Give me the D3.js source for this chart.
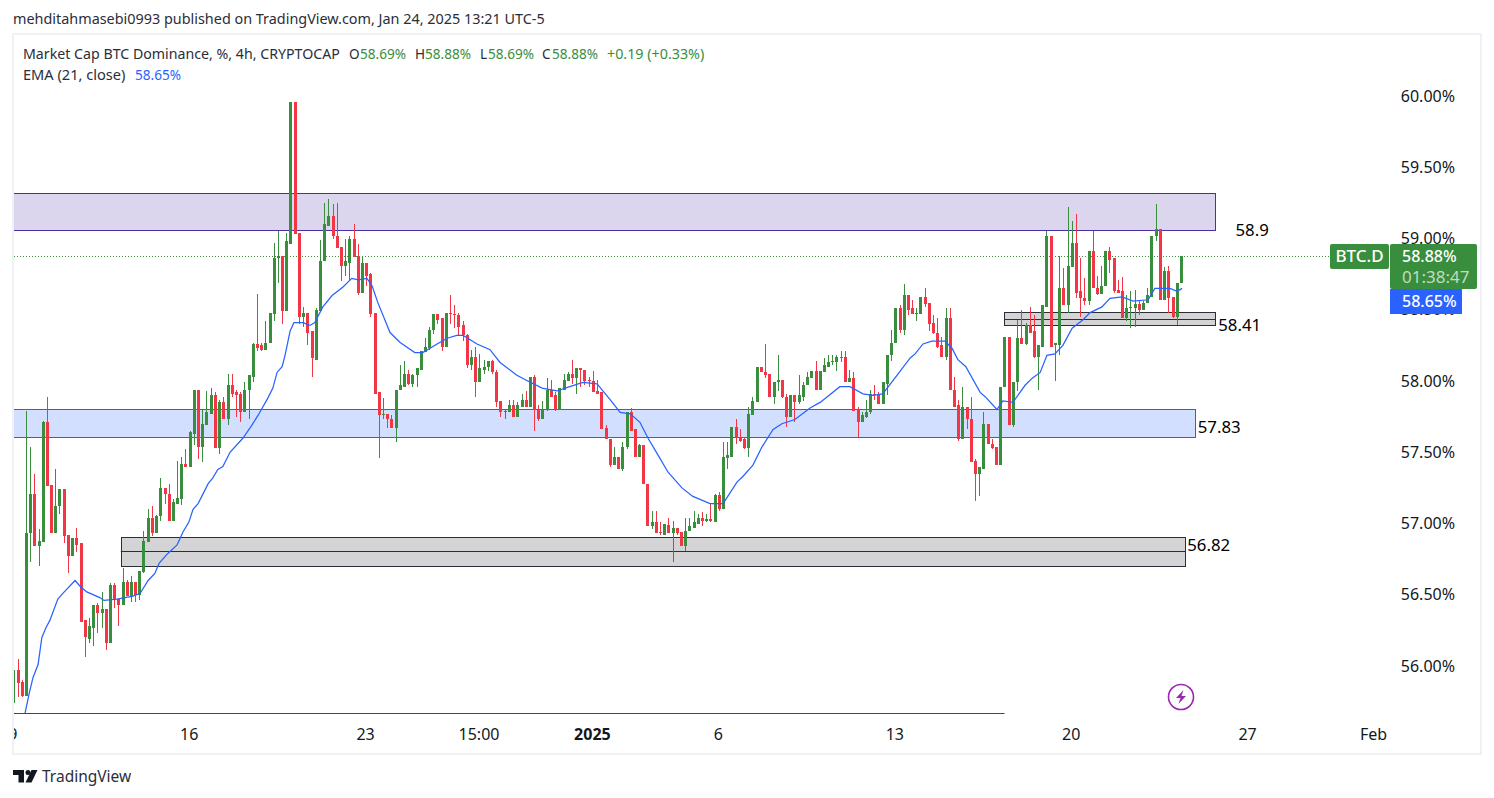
<!DOCTYPE html>
<html><head><meta charset="utf-8">
<script src="https://cdn.jsdelivr.net/npm/d3@7/dist/d3.min.js"></script>
<style>html,body{margin:0;padding:0;background:#fff}svg{display:block}text{font-family:"Noto Sans",sans-serif}</style>
</head><body><svg id="c" width="1494" height="798"></svg>
<script>
const opens=[55.74,55.97,55.89,55.79,56.93,57.21,56.84,56.87,57.71,57.27,
56.93,57.12,57.24,56.92,56.77,56.90,56.86,56.32,56.19,56.27,
56.43,56.37,56.40,56.16,56.57,56.47,56.43,56.59,56.49,56.59,
56.50,56.66,56.87,57.04,56.93,57.05,57.25,57.21,57.02,57.14,
57.17,57.42,57.40,57.63,57.94,57.54,57.69,57.77,57.90,57.53,
57.85,57.73,57.97,57.92,57.91,57.78,57.94,58.03,58.26,58.25,
58.22,58.27,58.47,58.86,58.88,58.49,58.96,59.96,59.04,58.45,
58.48,58.35,58.15,58.49,58.84,59.09,59.16,59.02,58.94,58.81,
58.83,59.00,58.88,58.62,58.83,58.75,58.48,57.92,57.76,57.77,
57.73,57.67,57.94,57.96,58.05,57.98,58.04,58.08,58.20,58.23,
58.36,58.47,58.44,58.24,58.48,58.47,58.46,58.39,58.32,58.11,
58.17,57.99,58.08,58.10,58.14,58.06,57.86,57.78,57.78,57.83,
57.75,57.82,57.87,57.82,58.03,57.80,57.73,57.80,57.94,57.90,
57.80,57.94,58.00,58.05,58.02,58.09,58.08,58.01,58.00,57.93,
57.92,57.67,57.59,57.41,57.47,57.38,57.54,57.78,57.66,57.47,
57.55,57.28,56.98,57.01,56.94,56.92,56.99,56.93,56.97,56.94,
56.84,56.95,56.97,57.00,57.04,57.02,57.03,57.01,57.20,57.10,
57.46,57.47,57.68,57.61,57.59,57.53,57.76,57.85,58.10,58.06,
58.05,57.89,57.99,58.01,57.89,57.75,57.90,57.85,57.89,57.97,
58.02,58.07,57.94,58.06,58.10,58.13,58.13,58.17,58.17,57.99,
58.02,57.80,57.71,57.75,57.78,57.91,57.90,57.84,57.98,58.18,
58.27,58.51,58.36,58.60,58.51,58.47,58.47,58.59,58.55,58.41,
58.34,58.25,58.17,58.44,57.94,57.83,57.59,57.82,57.73,57.44,
57.35,57.38,57.70,57.56,57.54,57.41,57.96,58.31,57.69,57.99,
58.30,58.26,58.39,58.35,58.17,58.24,58.52,59.02,58.25,58.25,
58.65,58.53,58.80,58.97,58.63,58.58,58.56,58.91,58.65,58.61,
58.67,58.91,58.86,58.64,58.63,58.44,58.51,58.51,58.54,58.50,
58.55,58.59,59.02,59.07,58.57,58.77,58.59,58.45,58.69];
const closes=[55.97,55.88,55.79,56.93,57.21,56.84,56.88,57.71,57.26,56.93,
57.12,57.24,56.91,56.77,56.90,56.85,56.31,56.20,56.28,56.43,
56.37,56.40,56.16,56.57,56.46,56.43,56.59,56.49,56.59,56.50,
56.67,56.88,57.04,56.93,57.05,57.25,57.21,57.02,57.15,57.18,
57.42,57.40,57.64,57.94,57.54,57.70,57.78,57.90,57.53,57.85,
57.73,57.97,57.91,57.90,57.78,57.94,58.04,58.26,58.23,58.22,
58.27,58.48,58.86,58.88,58.49,58.98,59.96,59.03,58.45,58.48,
58.34,58.16,58.50,58.84,59.10,59.16,59.02,58.93,58.81,58.84,
59.00,58.87,58.62,58.83,58.74,58.47,57.91,57.76,57.77,57.73,
57.67,57.94,57.97,58.05,57.98,58.04,58.09,58.21,58.24,58.36,
58.47,58.43,58.24,58.48,58.47,58.46,58.38,58.32,58.11,58.17,
57.99,58.09,58.10,58.14,58.06,57.85,57.78,57.79,57.83,57.75,
57.83,57.87,57.82,58.03,57.80,57.73,57.80,57.94,57.89,57.80,
57.95,58.01,58.05,58.02,58.09,58.08,58.00,58.00,57.92,57.91,
57.66,57.59,57.41,57.47,57.38,57.54,57.78,57.65,57.47,57.55,
57.28,56.98,57.01,56.93,56.93,57.00,56.93,56.97,56.93,56.84,
56.95,56.98,57.01,57.04,57.02,57.03,57.02,57.20,57.10,57.47,
57.48,57.68,57.60,57.58,57.53,57.77,57.86,58.10,58.06,58.04,
57.89,57.99,58.01,57.89,57.75,57.90,57.85,57.90,57.97,58.03,
58.07,57.94,58.07,58.11,58.13,58.14,58.17,58.16,57.99,58.02,
57.79,57.71,57.76,57.78,57.91,57.90,57.84,57.99,58.18,58.27,
58.51,58.36,58.60,58.50,58.47,58.48,58.59,58.54,58.40,58.34,
58.24,58.17,58.44,57.94,57.82,57.59,57.82,57.73,57.43,57.35,
57.40,57.70,57.56,57.53,57.41,57.96,58.31,57.69,57.99,58.30,
58.26,58.39,58.34,58.17,58.25,58.53,59.02,58.24,58.27,58.65,
58.53,58.81,58.97,58.62,58.58,58.56,58.91,58.65,58.61,58.67,
58.91,58.85,58.63,58.62,58.44,58.51,58.52,58.54,58.50,58.55,
58.60,59.02,59.07,58.57,58.77,58.58,58.45,58.69,58.88];
const highs=[55.97,56.05,55.90,57.79,57.54,57.35,56.96,57.72,57.89,57.27,
57.38,57.24,57.24,56.92,56.90,56.97,56.86,56.32,56.34,56.43,
56.44,56.52,56.40,56.58,56.58,56.47,56.69,56.60,56.63,56.59,
56.67,56.95,57.10,57.12,57.06,57.32,57.25,57.28,57.17,57.44,
57.47,57.52,57.65,57.94,57.94,57.80,57.93,57.95,57.92,57.87,
57.89,58.05,58.05,57.94,57.92,57.99,58.04,58.27,58.61,58.27,
58.42,58.48,58.97,59.05,58.88,59.04,59.96,59.96,59.04,58.52,
58.48,58.35,58.51,58.99,59.25,59.28,59.24,59.25,58.94,59.00,
59.02,59.10,58.96,58.88,58.83,58.76,58.48,57.92,57.88,57.77,
57.76,57.94,58.11,58.14,58.08,58.05,58.09,58.21,58.30,58.38,
58.47,58.47,58.44,58.48,58.60,58.53,58.48,58.42,58.33,58.22,
58.24,58.19,58.15,58.14,58.15,58.08,57.86,57.80,57.87,57.87,
57.85,57.91,57.93,58.03,58.04,57.83,57.86,58.02,58.01,57.92,
57.95,58.05,58.06,58.15,58.09,58.09,58.08,58.03,58.07,58.01,
57.92,57.69,57.59,57.54,57.47,57.57,57.78,57.81,57.66,57.56,
57.55,57.28,57.09,57.09,57.01,57.00,57.04,57.02,56.97,56.94,
57.04,57.04,57.09,57.07,57.08,57.07,57.14,57.21,57.22,57.57,
57.57,57.68,57.73,57.66,57.61,57.82,57.89,58.10,58.10,58.26,
58.05,57.99,58.18,58.01,57.91,57.90,57.90,58.04,57.99,58.06,
58.07,58.14,58.07,58.16,58.18,58.18,58.18,58.21,58.21,58.08,
58.06,57.82,57.78,57.87,57.94,57.97,57.92,57.99,58.18,58.36,
58.51,58.53,58.68,58.60,58.57,58.51,58.59,58.65,58.55,58.46,
58.44,58.31,58.51,58.51,58.03,57.87,57.96,57.82,57.89,57.45,
57.40,57.78,57.70,57.59,57.54,57.96,58.31,58.31,57.99,58.43,
58.50,58.41,58.52,58.46,58.25,58.53,59.05,59.02,58.27,58.88,
58.79,59.22,59.12,59.17,58.86,58.72,58.91,59.05,58.74,58.81,
58.91,58.94,58.86,58.71,58.73,58.60,58.63,58.64,58.57,58.56,
58.65,59.02,59.24,59.07,58.80,58.81,58.59,58.69,58.88];
const lows=[55.74,55.78,55.78,55.79,56.73,56.84,56.70,56.87,57.26,56.93,
56.93,57.07,56.86,56.65,56.77,56.80,56.31,56.06,56.16,56.14,
56.23,56.27,56.11,56.16,56.41,56.28,56.43,56.49,56.45,56.45,
56.46,56.65,56.87,56.91,56.93,57.02,57.14,57.02,57.02,57.14,
57.13,57.40,57.40,57.55,57.45,57.43,57.69,57.77,57.53,57.49,
57.73,57.69,57.89,57.75,57.71,57.78,57.73,57.99,58.21,58.21,
58.22,58.27,58.42,58.69,58.40,58.49,58.96,59.03,58.40,58.38,
58.25,58.03,58.15,58.49,58.84,59.09,59.00,58.93,58.70,58.74,
58.71,58.87,58.60,58.62,58.67,58.45,57.91,57.46,57.73,57.67,
57.67,57.57,57.94,57.96,57.97,57.96,57.96,58.08,58.20,58.22,
58.33,58.40,58.21,58.24,58.40,58.37,58.32,58.28,58.09,58.08,
57.89,57.99,58.05,58.07,58.05,57.82,57.75,57.73,57.78,57.75,
57.75,57.82,57.82,57.82,57.65,57.72,57.73,57.79,57.89,57.79,
57.80,57.94,58.00,57.98,57.91,57.96,57.97,57.96,57.92,57.91,
57.66,57.59,57.40,57.41,57.38,57.37,57.52,57.65,57.47,57.47,
57.28,56.98,56.96,56.93,56.92,56.92,56.93,56.73,56.92,56.84,
56.81,56.95,56.97,57.00,56.98,57.01,57.01,57.01,57.09,57.10,
57.38,57.47,57.56,57.57,57.52,57.47,57.76,57.85,58.06,58.02,
57.89,57.84,57.93,57.88,57.68,57.75,57.71,57.84,57.86,57.97,
58.02,57.94,57.94,58.06,58.10,58.11,58.07,58.13,57.99,57.99,
57.79,57.61,57.71,57.74,57.77,57.87,57.84,57.84,57.90,58.14,
58.27,58.34,58.32,58.46,58.47,58.42,58.47,58.52,58.35,58.33,
58.23,58.17,58.15,57.94,57.82,57.58,57.59,57.66,57.43,57.16,
57.19,57.38,57.56,57.52,57.41,57.41,57.96,57.69,57.68,57.93,
58.26,58.25,58.34,58.16,57.94,58.24,58.52,58.24,58.00,58.18,
58.53,58.48,58.80,58.58,58.45,58.53,58.53,58.65,58.60,58.61,
58.67,58.76,58.62,58.62,58.44,58.42,58.37,58.38,58.46,58.50,
58.55,58.59,58.98,58.57,58.57,58.48,58.44,58.39,58.69];

const emaAt=[2.8,3.8,4.7,5.9,6.8,7.8,8.7,10.6,11.8,14.7,15.9,17.5,20.6,21.6,24.7,28.5,30.2,32.1,33.7,34.7,36.8,39,40.4,41.8,42.8,44,46.4,47.5,48.7,49.9,51.6,54.7,56.8,58.3,60.6,61.8,62.8,64,64.7,65.9,66.8,69,70.6,71.8,73.7,75.9,78.5,80.6,82.1,84.2,85.4,86.8,89.7,92.1,95.6,97.5,100.9,103.3,105.6,107.1,110.4,113.5,115.9,119.9,122.5,125.9,129.4,132.5,135.6,139,142.1,144.5,146.9,149.2,151.1,153.3,155.9,159.2,161.8,165.9,169,172.3,173.7,176.1,178.3,180.9,183,186.1,189.7,192.1,196.8,199.2,202.3,204.7,207,209.9,213.5,214.7,216.6,218.7,221.8,223.5,224.9,226.8,230.2,231.4,234.2,235.6,238,240.9,242.6,244.5,246.1,248,249.9,252.1,254.7,256.4,259.2,261.1,264,266.6,270.2,271.8,275.4,277.1,278.3];
const emaValues=[55.67,55.81,55.92,56.01,56.20,56.27,56.32,56.47,56.51,56.60,56.56,56.52,56.48,56.46,56.47,56.49,56.51,56.60,56.65,56.72,56.79,56.85,56.94,57.01,57.10,57.14,57.28,57.32,57.38,57.40,57.50,57.60,57.69,57.76,57.88,57.95,58.06,58.10,58.18,58.35,58.41,58.41,58.39,58.41,58.52,58.60,58.66,58.72,58.71,58.72,58.67,58.55,58.34,58.27,58.20,58.20,58.26,58.30,58.32,58.32,58.26,58.22,58.13,58.04,58.00,57.95,57.93,57.96,57.99,57.98,57.87,57.78,57.77,57.71,57.60,57.49,57.36,57.25,57.19,57.14,57.14,57.29,57.33,57.41,57.54,57.66,57.70,57.73,57.81,57.85,57.96,57.96,57.91,57.90,57.91,58.02,58.16,58.19,58.26,58.28,58.28,58.23,58.15,58.10,57.92,57.89,57.80,57.86,57.85,57.97,58.02,58.06,58.18,58.19,58.25,58.37,58.43,58.48,58.52,58.58,58.59,58.56,58.57,58.65,58.65,58.63,58.65];

const yTicks=[60,59.5,59,58.5,58,57.5,57,56.5,56];
const timeTickAt=[0,42,84,111,138,168,210,252,294,324];
const timeTickLabels=["9","16","23","15:00","2025","6","13","20","27","Feb"];
const zoneFrom=[-1,-1,25.6,235.9];
const zoneTo=[286.2,281.4,279,286.2];
const zoneTop=[59.32,57.805,56.905,58.485];
const zoneBottom=[59.06,57.61,56.70,58.39];
const zoneMid=[null,null,56.805,58.435];
const zoneFill=["#dbd6ee","#d2dfff","#d4d4d6","#d4d4d6"];
const zoneStroke=["#4a2fa8","#2962e8","#2a2e39","#2a2e39"];
const noteLabels=["58.9","58.41","57.83","56.82"];
const noteAt=[291,286.9,282,279.5];
const noteValues=[59.05,58.385,57.67,56.84];

const UP="#388e3c",DOWN="#f23645",BLUE="#2962ff";
const svg=d3.select("#c");
const x=d3.scaleLinear().domain([0,279]).range([13.3,1185.1]);
const y=d3.scaleLinear().domain([56,60]).range([666,96]);

svg.append("rect").attr("x",13).attr("y",34).attr("width",1468).attr("height",720).attr("fill","#fff").attr("stroke","#f0f0f6").attr("stroke-width",2);
const defs=svg.append("defs");
defs.append("clipPath").attr("id","plot").append("rect").attr("x",14).attr("y",35).attr("width",1466).attr("height",718);

svg.append("text").attr("x",13).attr("y",24).attr("font-size",14.4).attr("fill","#2a2e39").text("mehditahmasebi0993 published on TradingView.com, Jan 24, 2025 13:21 UTC-5");

const leg=[["Market Cap BTC Dominance, %, 4h, CRYPTOCAP",23,"#2a2e39",14.2],["O",349,"#2a2e39",13.6],["58.69%",360,UP,13.6],["H",415,"#2a2e39",13.6],["58.88%",425,UP,13.6],["L",480,"#2a2e39",13.6],["58.69%",488,UP,13.6],["C",542,"#2a2e39",13.6],["58.88%",552,UP,13.6],["+0.19 (+0.33%)",607,UP,14.3]];
svg.append("g").selectAll("text").data(leg).join("text").attr("x",d=>d[1]).attr("y",59).attr("font-size",d=>d[3]).attr("fill",d=>d[2]).text(d=>d[0]);
svg.append("text").attr("x",23).attr("y",80).attr("font-size",14.6).attr("fill","#2a2e39").text("EMA (21, close)");
svg.append("text").attr("x",135).attr("y",80).attr("font-size",13.6).attr("fill",BLUE).text("58.65%");

const plot=svg.append("g").attr("clip-path","url(#plot)");

// zones
const zones=d3.range(zoneTop.length);
plot.append("g").selectAll("rect").data(zones).join("rect")
 .attr("x",i=>Math.round(x(zoneFrom[i]))+.5)
 .attr("y",i=>Math.round(y(zoneTop[i]))+.5)
 .attr("width",i=>Math.round(x(zoneTo[i]))-Math.round(x(zoneFrom[i])))
 .attr("height",i=>Math.round(y(zoneBottom[i]))-Math.round(y(zoneTop[i])))
 .attr("fill",i=>zoneFill[i]).attr("stroke",i=>zoneStroke[i]).attr("stroke-width",1);
plot.append("g").selectAll("line").data(zones.filter(i=>zoneMid[i]!==null)).join("line")
 .attr("x1",i=>x(zoneFrom[i])).attr("x2",i=>x(zoneTo[i]))
 .attr("y1",i=>Math.round(y(zoneMid[i]))+.5).attr("y2",i=>Math.round(y(zoneMid[i]))+.5)
 .attr("stroke",i=>zoneStroke[i]);
// base line
plot.append("line").attr("x1",x(-1)).attr("x2",x(236)).attr("y1",Math.round(y(55.67))+.5).attr("y2",Math.round(y(55.67))+.5).attr("stroke","#4a2fa8");

// last price line
plot.append("line").attr("x1",14).attr("x2",1330).attr("y1",Math.round(y(58.88))+.5).attr("y2",Math.round(y(58.88))+.5)
 .attr("stroke",UP).attr("stroke-dasharray","1 2").attr("shape-rendering","crispEdges");

// candles
const idx=d3.range(opens.length);
const col=i=>closes[i]>=opens[i]?UP:DOWN;
const cg=plot.append("g").attr("shape-rendering","crispEdges");
cg.selectAll("rect.w").data(idx).join("rect").attr("class","w")
 .attr("x",i=>Math.round(x(i))).attr("width",1)
 .attr("y",i=>Math.round(y(highs[i]))).attr("height",i=>Math.max(1,Math.round(y(lows[i]))-Math.round(y(highs[i]))))
 .attr("fill",col);
cg.selectAll("rect.b").data(idx).join("rect").attr("class","b")
 .attr("x",i=>Math.round(x(i))-1).attr("width",3)
 .attr("y",i=>Math.round(y(Math.max(opens[i],closes[i]))))
 .attr("height",i=>Math.max(1,Math.round(y(Math.min(opens[i],closes[i])))-Math.round(y(Math.max(opens[i],closes[i])))))
 .attr("fill",col);

// EMA
plot.append("path").datum(d3.range(emaAt.length)).attr("fill","none").attr("stroke",BLUE).attr("stroke-width",1.25)
 .attr("d",d3.line().x(i=>x(emaAt[i])).y(i=>y(emaValues[i])));

// notes
svg.append("g").selectAll("text").data(noteLabels).join("text")
 .attr("x",(d,i)=>x(noteAt[i])).attr("y",(d,i)=>y(noteValues[i])).attr("font-size",16.8).attr("fill","#000").attr("dominant-baseline","middle").text(d=>d);

// y axis
const ya=svg.append("g").attr("transform","translate(1395,0)").call(d3.axisRight(y).tickValues(yTicks).tickSize(0).tickFormat(d=>d.toFixed(2)+"%"));
ya.select(".domain").remove();
ya.selectAll("text").attr("x",60).attr("text-anchor","end").attr("font-size",16).attr("font-family",'"Noto Sans",sans-serif').attr("fill","#131722");

// x axis
const tg=svg.append("g").attr("clip-path","url(#plot)");
const xa=tg.append("g").attr("transform","translate(-1,734)").call(d3.axisBottom(x).tickValues(timeTickAt).tickSize(0).tickFormat((d,i)=>timeTickLabels[i]));
xa.select(".domain").remove();
xa.selectAll("text").attr("y",0).attr("dy","0.35em").attr("font-size",16).attr("font-family",'"Noto Sans",sans-serif').attr("fill","#131722")
 .attr("font-weight",d=>d===138?700:400);

// price labels
const lab=svg.append("g");
lab.append("rect").attr("x",1330).attr("y",244).attr("width",59).attr("height",25).attr("rx",2).attr("fill",UP);
lab.append("text").attr("x",1359.5).attr("y",262).attr("text-anchor","middle").attr("font-size",17).attr("font-weight",500).attr("fill","#fff").text("BTC.D");
lab.append("rect").attr("x",1390).attr("y",289).attr("width",72).attr("height",25).attr("fill",BLUE);
lab.append("rect").attr("x",1390).attr("y",244).attr("width",87).attr("height",45).attr("rx",2).attr("fill",UP);
lab.append("text").attr("x",1402).attr("y",262).attr("font-size",16).attr("font-weight",500).attr("fill","#fff").text("58.88%");
lab.append("text").attr("x",1402).attr("y",283).attr("font-size",17).attr("fill","#fff").attr("fill-opacity",.7).text("01:38:47");
lab.append("text").attr("x",1402).attr("y",307).attr("font-size",16).attr("font-weight",500).attr("fill","#fff").text("58.65%");

// bolt icon
const ic=svg.append("g").attr("transform","translate(1181,697)");
ic.append("circle").attr("r",12.5).attr("fill","none").attr("stroke","#9c27b0").attr("stroke-width",1.6);
ic.append("path").attr("d","M2.5,-7 L-5,1 L-0.5,1 L-2.5,7 L5,-1 L0.5,-1 Z").attr("fill","#9c27b0");

// logo
const lg=svg.append("g").attr("transform","translate(13,770)").attr("fill","#131722");
lg.append("path").attr("d","M0,0H11V12.5H5.5V5H0Z");
lg.append("circle").attr("cx",15).attr("cy",2.5).attr("r",2.5);
lg.append("path").attr("d","M18.5,0H24.5L18.5,12.5H12.5Z");
svg.append("text").attr("x",42).attr("y",782).attr("font-size",15.5).attr("fill","#2a2e39").text("TradingView");
</script></body></html>
